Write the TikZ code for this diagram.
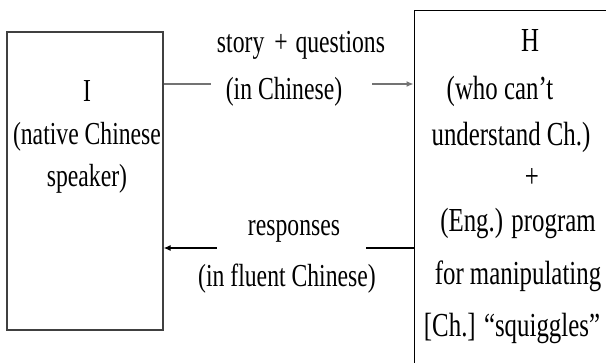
\documentclass[tikz,border=0pt]{standalone}
\usepackage{fontspec}
\setmainfont{Liberation Serif}[FakeStretch=0.74]
\usetikzlibrary{arrows.meta,positioning}
\tikzset{
    roombox/.style={
        rectangle,
        draw=black!75, % dark grey frame
        line width=0.65pt,
        inner sep=0
    },
    boxtext/.style={
        align=center,
        inner sep=0,
        anchor=base,
        font=\fontsize{16}{21.25}\selectfont
    },
    msgtext/.style={
        inner sep=0,
        anchor=base,
        font=\fontsize{16}{19}\selectfont
    },
    htext/.style={
        msgtext,
        font=\fontsize{16.8}{19}\selectfont
    },
    linegap/.style={
        fill=white, % cuts the connector under the label
        inner sep=0,
        minimum height=4pt
    },
    conn/.style={
        line width=0.6pt,
        -{Latex[length=3.5pt,width=3pt]}
    }
}
\begin{document}
\begin{tikzpicture}[x=0.5pt,y=-0.5pt]
    \clip (0,0) rectangle (606,363);
    % the two parties
    \node[roombox, minimum width=78pt, minimum height=149pt] (speaker) at (85,181) {};
    \node[roombox, draw=black, line width=0.5pt, minimum width=150pt, minimum height=200pt] (room) at (564,211) {};
    \node[boxtext] (speakertext) at (87,187) {I\\(native Chinese\\speaker)};
    % text of H, line by line
    \node[htext] (h1) at (530,52) {H};
    \node[htext] (h2) at (500,100) {(who can't};
    \node[htext] (h3) at (511,146) {understand Ch.)};
    \node[htext] (h4) at (532,188) {+};
    \node[htext] (h5) at (518,232) {(Eng.) program};
    \node[htext] (h6) at (518,285) {for manipulating};
    \node[htext] (h7) at (512,337) {[Ch.] ``squiggles''};
    % messages
    \draw[conn, draw=black!55] (speaker.east |- 0,84) -- node[linegap, pos=0.512, minimum width=80.5pt] {} (room.west |- 0,84);
    \draw[conn, draw=black] (room.west |- 0,248) -- node[linegap, pos=0.488, minimum width=74.5pt] {} (speaker.east |- 0,248);
    \node[msgtext] (story) at (301,53) {story\hspace{2pt} + \hspace{1pt}questions};
    \node[msgtext] (inchinese) at (284,100) {(in Chinese)};
    \node[msgtext] (responses) at (294,236) {responses};
    \node[msgtext] (fluent) at (287,287) {(in fluent Chinese)};
\end{tikzpicture}
\end{document}
